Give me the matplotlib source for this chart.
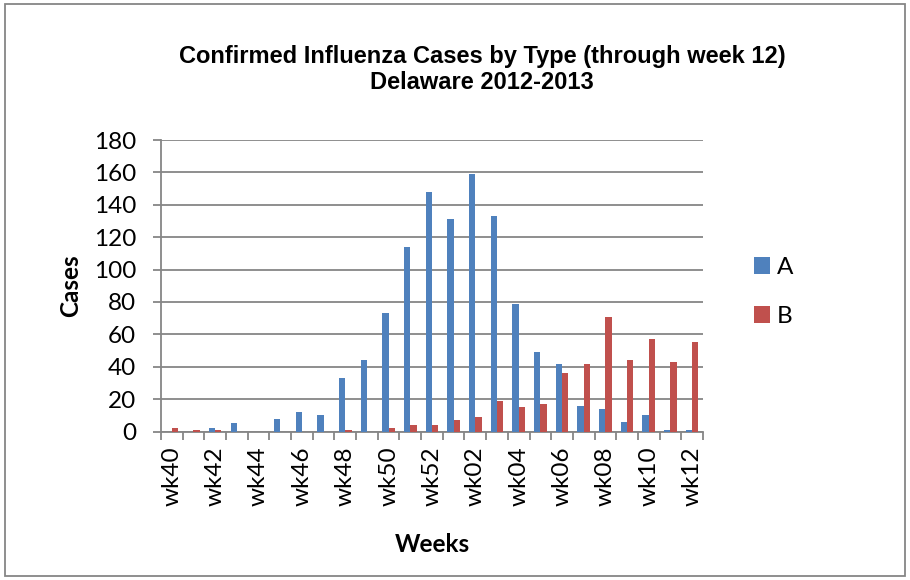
import matplotlib
matplotlib.use("Agg")
import matplotlib.pyplot as plt
from matplotlib.patches import Rectangle
import numpy as np

# weekly confirmed cases, wk40 (2012) through wk12 (2013)
weeks = ["wk40", "wk41", "wk42", "wk43", "wk44", "wk45", "wk46", "wk47", "wk48",
         "wk49", "wk50", "wk51", "wk52", "wk01", "wk02", "wk03", "wk04", "wk05",
         "wk06", "wk07", "wk08", "wk09", "wk10", "wk11", "wk12"]
type_a = [0, 0, 2, 5, 0, 8, 12, 10, 33, 44, 73, 114, 148, 131, 159, 133, 79, 49,
          42, 16, 14, 6, 10, 1, 1]
type_b = [2, 1, 1, 0, 0, 0, 0, 0, 1, 0, 2, 4, 4, 7, 9, 19, 15, 17,
          36, 42, 71, 44, 57, 43, 55]

blue = "#4F81BD"
red = "#C0504D"
grey = "#868686"
body_font = "Lato"
title_font = "Liberation Sans"
fs = 17.5

fig = plt.figure(figsize=(9.1, 5.8), dpi=100)
ax = fig.add_axes([0.1769, 0.256, 0.7725 - 0.1769, 0.7586 - 0.256])

x = np.arange(len(weeks))
w = 0.29
ax.bar(x - w / 2, type_a, w, color=blue, label="A", zorder=3)
ax.bar(x + w / 2, type_b, w, color=red, label="B", zorder=3)

ax.set_xlim(-0.5, len(weeks) - 0.5)
ax.set_ylim(0, 180)
ax.set_yticks(range(0, 181, 20))
ax.yaxis.grid(True, color=grey, linewidth=1.3, zorder=0)

# labels on every other week, tick marks between categories
ax.set_xticks(x[::2])
ax.set_xticklabels(weeks[::2], rotation=90, fontsize=fs, family=body_font)
ax.set_xticks(np.arange(-0.5, len(weeks), 1), minor=True)
ax.tick_params(axis="x", which="major", length=0, pad=11)
ax.tick_params(axis="x", which="minor", length=6, width=1.3, color=grey)
ax.tick_params(axis="y", length=6, width=1.3, color=grey, labelsize=fs, pad=12)
for lab in ax.get_yticklabels():
    lab.set_family(body_font)

for side in ["top", "right"]:
    ax.spines[side].set_visible(False)
for side in ["left", "bottom"]:
    ax.spines[side].set_color(grey)
    ax.spines[side].set_linewidth(1.3)

ax.set_ylabel("Cases", fontsize=fs, fontweight="bold", family=body_font, labelpad=8)
ax.set_xlabel("Weeks", fontsize=fs, fontweight="bold", family=body_font, labelpad=19)

fig.text(0.53, 0.880, "Confirmed Influenza Cases by Type (through week 12)\nDelaware 2012-2013",
         ha="center", va="center", fontsize=17, fontweight="bold", family=title_font,
         linespacing=1.18)

fig.legend(loc="center left", bbox_to_anchor=(0.8045, 0.4966), frameon=False,
           prop={"family": body_font, "size": fs}, handlelength=0.65, handleheight=0.65,
           labelspacing=1.15, handletextpad=0.3)

# chart border
fig.patches.append(Rectangle((0.005, 0.007), 0.99, 0.986, transform=fig.transFigure,
                             fill=False, edgecolor=grey, linewidth=1.3))

fig.savefig("out.png", dpi=100)
